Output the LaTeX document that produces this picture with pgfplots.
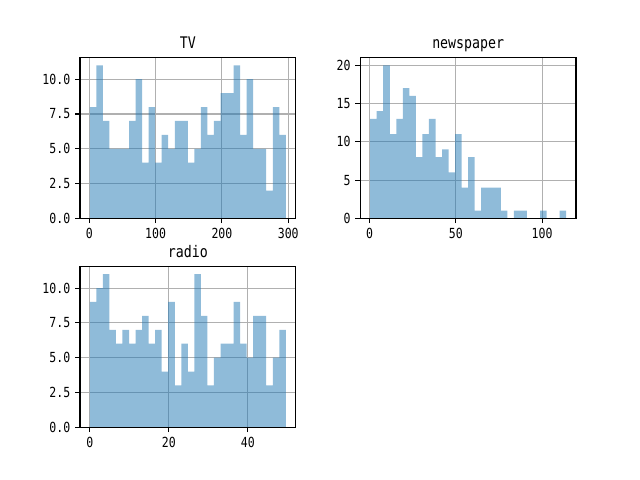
\documentclass[border=0pt]{standalone}
\usepackage{fontspec}
\setmainfont{DejaVu Sans Mono}[FakeStretch=0.83]
\usepackage{pgfplots}
\pgfplotsset{compat=1.18}
\definecolor{barc}{HTML}{1F77B4}
\definecolor{gridc}{HTML}{B0B0B0}
\pgfplotsset{
  histax/.style={
    scale only axis, width=155.27pt, height=115.7pt, anchor=south west,
    axis line style={black, line width=0.8pt},
    grid=major, major grid style={gridc, line width=0.8pt},
    tick align=outside, tick pos=left,
    major tick length=3.5pt, every tick/.style={black, line width=0.8pt},
    ymin=0,
    /pgf/number format/assume math mode=true,
    tick label style={font=\fontsize{10}{12}\selectfont, black},
    title style={font=\fontsize{11.5}{14}\selectfont, text depth=0.25em, yshift=-5.5pt},
    after end axis/.code={\draw[black, line width=0.8pt] (rel axis cs:0,0) rectangle (rel axis cs:1,1);},
  },
  histbar/.style={ybar interval, fill=barc, fill opacity=0.5, draw=none},
  onedec/.style={yticklabel style={/pgf/number format/.cd, fixed, fixed zerofill, precision=1}},
}
\begin{document}
\begin{tikzpicture}
\useasboundingbox (0,0) rectangle (460.8pt,345.6pt);
% TV
\begin{axis}[histax, onedec, at={(57.6pt,188.4pt)}, title={TV},
  xmin=-14.09, xmax=311.19, ymax=11.55,
  xtick={0,100,200,300}, ytick={0,2.5,5,7.5,10}]
\addplot[histbar] coordinates {
(0.7,8) (10.557,11) (20.413,7) (30.270,5) (40.127,5) (49.983,5) (59.840,7) (69.697,10) (79.553,4) (89.410,8)
(99.267,4) (109.123,6) (118.980,5) (128.837,7) (138.693,7) (148.550,4) (158.407,5) (168.263,8) (178.120,6) (187.977,7)
(197.833,9) (207.690,9) (217.547,11) (227.403,6) (237.260,10) (247.117,5) (256.973,5) (266.830,2) (276.687,8) (286.543,6)
(296.4,6)};
\end{axis}
% newspaper
\begin{axis}[histax, at={(259.45pt,188.4pt)}, title={newspaper},
  xmin=-5.385, xmax=119.685, ymax=21,
  xtick={0,50,100}, ytick={0,5,10,15,20}]
\addplot[histbar] coordinates {
(0.3,13) (4.09,14) (7.88,20) (11.67,11) (15.46,13) (19.25,17) (23.04,16) (26.83,8) (30.62,11) (34.41,13)
(38.2,8) (41.99,9) (45.78,6) (49.57,11) (53.36,4) (57.15,8) (60.94,1) (64.73,4) (68.52,4) (72.31,4)
(76.1,1) (79.89,0) (83.68,1) (87.47,1) (91.26,0) (95.05,0) (98.84,1) (102.63,0) (106.42,0) (110.21,1)
(114.0,1)};
\end{axis}
% radio
\begin{axis}[histax, onedec, at={(57.6pt,38.02pt)}, title={radio},
  xmin=-2.48, xmax=52.08, ymax=11.55,
  xtick={0,20,40}, ytick={0,2.5,5,7.5,10}]
\addplot[histbar] coordinates {
(0,9) (1.653,10) (3.307,11) (4.960,7) (6.613,6) (8.267,7) (9.920,6) (11.573,7) (13.227,8) (14.880,6)
(16.533,7) (18.187,4) (19.840,9) (21.493,3) (23.147,6) (24.800,4) (26.453,11) (28.107,8) (29.760,3) (31.413,5)
(33.067,6) (34.720,6) (36.373,9) (38.027,6) (39.680,5) (41.333,8) (42.987,8) (44.640,3) (46.293,5) (47.947,7)
(49.6,7)};
\end{axis}
\end{tikzpicture}
\end{document}
